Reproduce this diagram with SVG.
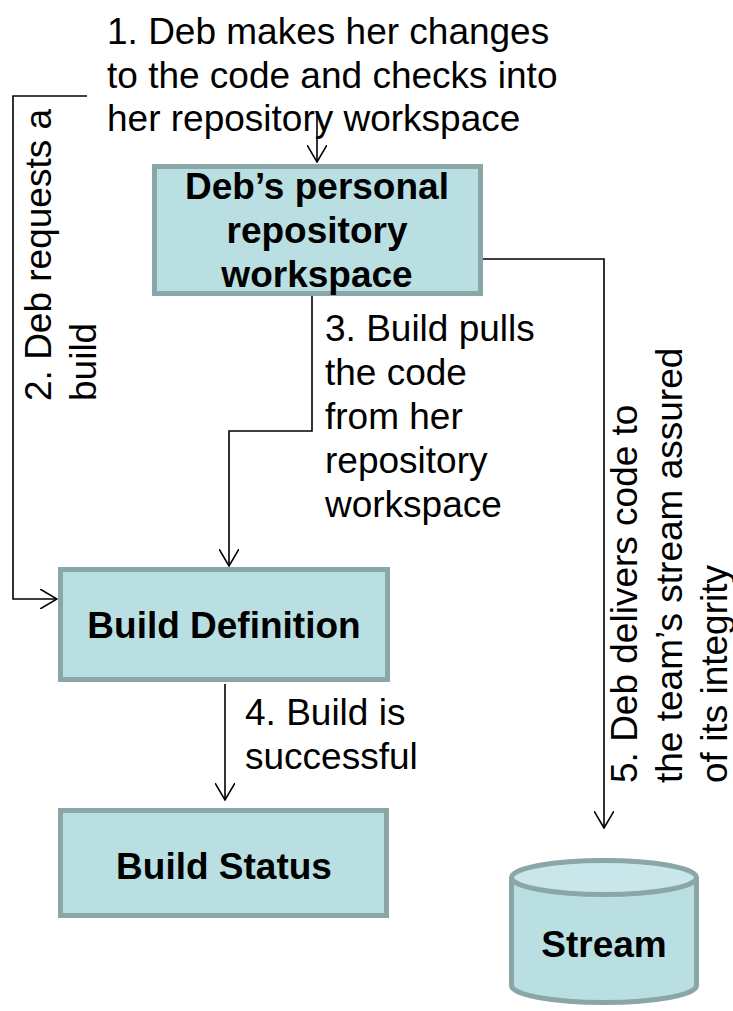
<svg xmlns="http://www.w3.org/2000/svg" width="733" height="1011" viewBox="0 0 733 1011">
  <defs>
    <style>
      .box { fill: #b9dfe2; stroke: #8ba6a7; stroke-width: 5; }
      .cyl-top { fill: #c9e7ea; stroke: #8ba6a7; stroke-width: 5; }
      .lbl { font-family: "Liberation Sans", Arial, sans-serif; font-size: 37px; font-weight: bold; fill: #000; text-anchor: middle; }
      .note { font-family: "Liberation Sans", Arial, sans-serif; font-size: 37px; fill: #000; }
      .wire { fill: none; stroke: #000; stroke-width: 1.6; marker-end: url(#arrow); }
    </style>
    <marker id="arrow" viewBox="0 0 18 20" refX="17" refY="10" markerWidth="18" markerHeight="20" markerUnits="userSpaceOnUse" orient="auto">
      <path d="M0,0 L17,10 L0,20" fill="none" stroke="#000" stroke-width="1.6"/>
    </marker>
  </defs>
  <rect width="733" height="1011" fill="#fff"/>

  <!-- connectors -->
  <g id="connectors">
    <path class="wire" d="M317,112 V162"/>
    <path class="wire" d="M87,96 H13 V599 H57"/>
    <path class="wire" d="M312,296 V431 H229 V566"/>
    <path class="wire" d="M225,684 V800"/>
    <path class="wire" d="M483,259 H604 V828"/>
  </g>

  <!-- step notes -->
  <g id="notes">
    <text class="note" x="107" y="44">1. Deb makes her changes</text>
    <text class="note" x="107" y="87.5">to the code and checks into</text>
    <text class="note" x="107" y="131">her repository workspace</text>

    <g transform="translate(51,401) rotate(-90)">
      <text class="note" x="0" y="0">2. Deb requests a</text>
      <text class="note" x="0" y="45">build</text>
    </g>

    <text class="note" x="325" y="341">3. Build pulls</text>
    <text class="note" x="325" y="385">the code</text>
    <text class="note" x="325" y="429">from her</text>
    <text class="note" x="325" y="473">repository</text>
    <text class="note" x="325" y="517">workspace</text>

    <text class="note" x="245" y="725">4. Build is</text>
    <text class="note" x="245" y="769">successful</text>

    <g transform="translate(637,783) rotate(-90)">
      <text class="note" x="0" y="0">5. Deb delivers code to</text>
      <text class="note" x="0" y="45">the team’s stream assured</text>
      <text class="note" x="0" y="90">of its integrity</text>
    </g>
  </g>

  <!-- nodes -->
  <g id="workspace">
    <rect class="box" x="154.5" y="166.5" width="326" height="127"/>
    <text class="lbl" x="317" y="199">Deb’s personal</text>
    <text class="lbl" x="317" y="243">repository</text>
    <text class="lbl" x="317" y="287">workspace</text>
  </g>

  <g id="build-definition">
    <rect class="box" x="60.5" y="569.5" width="327" height="110"/>
    <text class="lbl" x="224" y="638">Build Definition</text>
  </g>

  <g id="build-status">
    <rect class="box" x="60.5" y="810.5" width="326" height="105"/>
    <text class="lbl" x="224" y="879">Build Status</text>
  </g>

  <g id="stream">
    <path class="box" d="M511.5,877.5 V985.5 A92.5,17 0 0 0 696.5,985.5 V877.5"/>
    <ellipse class="cyl-top" cx="604" cy="877.5" rx="92.5" ry="17"/>
    <text class="lbl" x="604" y="957">Stream</text>
  </g>
</svg>
